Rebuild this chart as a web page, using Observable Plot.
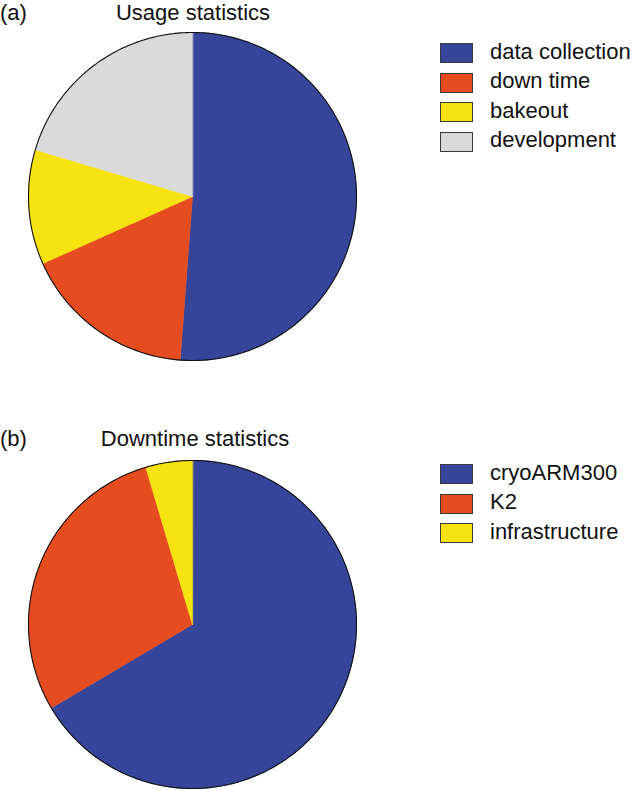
<!DOCTYPE html>
<html>
<head>
<meta charset="utf-8">
<script src="https://cdn.jsdelivr.net/npm/d3@7"></script>
<script src="https://cdn.jsdelivr.net/npm/@observablehq/plot@0.6"></script>
<style>
  html, body { margin: 0; padding: 0; background: #fff; }
  #root { position: relative; width: 640px; height: 790px; font-family: "Liberation Sans", Arial, sans-serif; color: #111; }
  .abs { position: absolute; white-space: nowrap; font-size: 22px; line-height: 22px; }
  .sw { position: absolute; width: 31px; height: 18px; border: 1px solid #3a3a3a; }
  svg { position: absolute; left: 0; }
</style>
</head>
<body>
<div id="root"></div>
<script>
// ---- data ----
const usageCategories = ["data collection", "down time", "bakeout", "development"];
const usageValues = [51.2, 17.1, 11.3, 20.4];
const usageColors = ["#36449a", "#e54d21", "#f7e30f", "#dadada"];

const downCategories = ["cryoARM300", "K2", "infrastructure"];
const downValues = [66.5, 28.9, 4.6];
const downColors = ["#36449a", "#e54d21", "#f7e30f"];

const panelLabels = ["(a)", "(b)"];
const panelTitles = ["Usage statistics", "Downtime statistics"];

// ---- helpers ----
function arcPoints(a0, a1) {
  const n = Math.max(2, Math.ceil((a1 - a0) / (Math.PI / 180)));
  const pts = [];
  for (let i = 0; i <= n; i++) {
    const a = a0 + (a1 - a0) * i / n;
    pts.push([Math.sin(a), Math.cos(a)]);
  }
  return pts;
}
function sliceFeatures(cats, vals) {
  const arcs = d3.pie().sort(null)(vals);
  return arcs.map((d, i) => ({
    type: "Feature",
    properties: {category: cats[i]},
    geometry: {type: "Polygon", coordinates: [[[0, 0], ...arcPoints(d.startAngle, d.endAngle), [0, 0]]]}
  }));
}
const circle = {type: "Feature", properties: {}, geometry: {type: "Polygon", coordinates: [arcPoints(0, 2 * Math.PI)]}};

function pie(cats, vals, colors) {
  return Plot.plot({
    width: 640,
    height: 395,
    marginTop: 32,
    marginBottom: 35,
    marginLeft: 28,
    marginRight: 284,
    projection: {type: "reflect-y", domain: circle},
    color: {domain: cats, range: colors},
    marks: [
      Plot.geo(sliceFeatures(cats, vals), {fill: d => d.properties.category, stroke: d => d.properties.category, strokeWidth: 0.6}),
      Plot.geo([circle], {fill: "none", stroke: "#111", strokeWidth: 1.1})
    ]
  });
}

const root = document.getElementById("root");
const panels = [
  {top: 0, textTop: 1.5, cats: usageCategories, vals: usageValues, colors: usageColors, titleCx: 193, rows: [52.8, 82.3, 111.8, 141.3]},
  {top: 428, textTop: 428, cats: downCategories, vals: downValues, colors: downColors, titleCx: 195, rows: [473.5, 503, 532.5]}
];

panels.forEach((p, k) => {
  const svg = pie(p.cats, p.vals, p.colors);
  svg.style.top = p.top + "px";
  root.appendChild(svg);

  const lab = document.createElement("div");
  lab.className = "abs";
  lab.style.left = "0px";
  lab.style.top = p.textTop + "px";
  lab.textContent = panelLabels[k];
  root.appendChild(lab);

  const t = document.createElement("div");
  t.className = "abs";
  t.style.left = (p.titleCx - 150) + "px";
  t.style.width = "300px";
  t.style.textAlign = "center";
  t.style.top = p.textTop + "px";
  t.textContent = panelTitles[k];
  root.appendChild(t);

  p.cats.forEach((c, i) => {
    const sw = document.createElement("div");
    sw.className = "sw";
    sw.style.left = "440px";
    sw.style.top = (p.rows[i] - 9.5) + "px";
    sw.style.background = p.colors[i];
    root.appendChild(sw);
    const tx = document.createElement("div");
    tx.className = "abs";
    tx.style.left = "490px";
    tx.style.top = (p.rows[i] - 11.9) + "px";
    tx.textContent = c;
    root.appendChild(tx);
  });
});
</script>
</body>
</html>
